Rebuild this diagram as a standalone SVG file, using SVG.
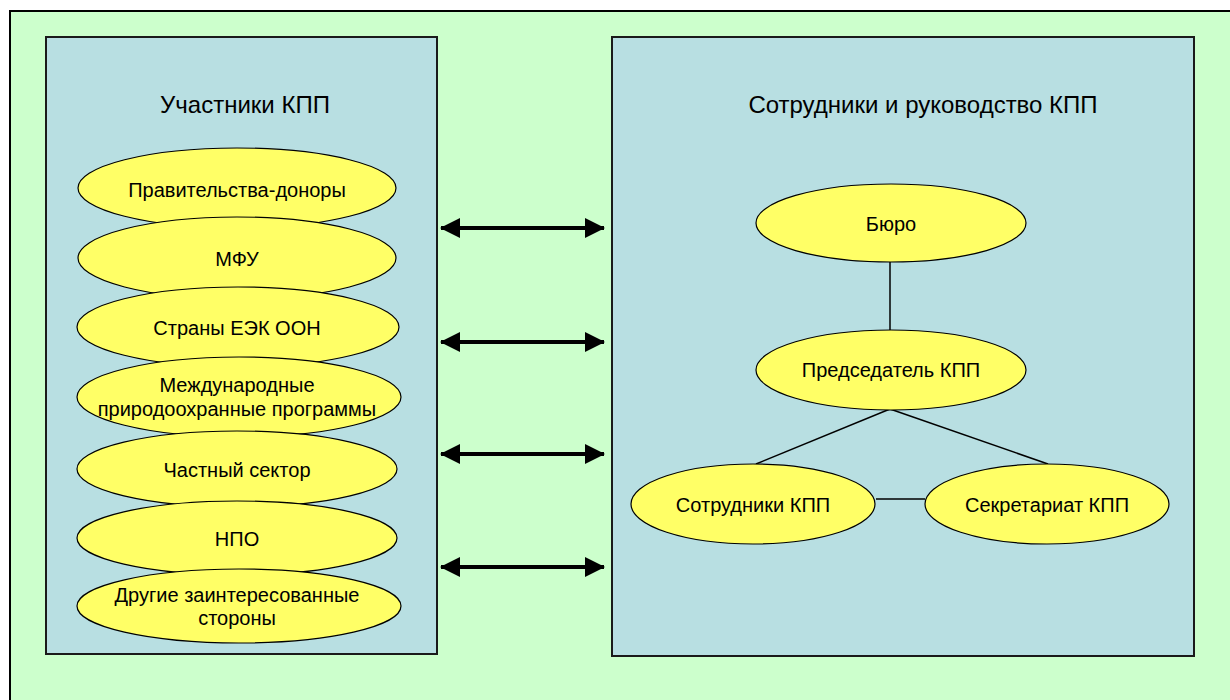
<svg xmlns="http://www.w3.org/2000/svg" width="1230" height="700" viewBox="0 0 1230 700">
<defs>
<style>
.panel{fill:#B8DFE2;stroke:#1a1a1a;stroke-width:2}
.node ellipse{fill:#FFFF66;stroke:#000;stroke-width:1.2}
text{font-family:"Liberation Sans",Arial,sans-serif;fill:#000;text-anchor:middle}
.t{font-size:20px}
.title{font-size:24px}
.line{stroke:#000;stroke-width:1.5;fill:none}
.arrow{stroke:#000;stroke-width:4;fill:none;marker-start:url(#ah);marker-end:url(#ah)}
</style>
<marker id="ah" viewBox="0 0 20 20" refX="19" refY="10" markerWidth="20" markerHeight="20" markerUnits="userSpaceOnUse" orient="auto-start-reverse">
<path d="M0,0 L20,10 L0,20 Z" fill="#000"/>
</marker>
</defs>
<rect x="0" y="0" width="1230" height="700" fill="#fff"/>
<rect x="10" y="11" width="1230" height="700" fill="#CCFFCC" stroke="#000" stroke-width="2"/>
<g id="panel-left">
<rect class="panel" x="46" y="37" width="391" height="617"/>
<text class="title" x="245" y="113">Участники КПП</text>
</g>
<g id="panel-right">
<rect class="panel" x="612" y="37" width="582" height="619"/>
<text class="title" x="923" y="113">Сотрудники и руководство КПП</text>
</g>
<g id="connectors">
<line class="arrow" x1="441" y1="228" x2="604" y2="228"/>
<line class="arrow" x1="441" y1="342" x2="604" y2="342"/>
<line class="arrow" x1="441" y1="454" x2="604" y2="454"/>
<line class="arrow" x1="441" y1="567" x2="604" y2="567"/>
<line class="line" x1="890" y1="262" x2="890" y2="330"/>
<line class="line" x1="890" y1="409" x2="756" y2="464"/>
<line class="line" x1="890" y1="409" x2="1048" y2="464"/>
<line class="line" x1="876" y1="499" x2="925" y2="499"/>
</g>
<g id="n-donors" class="node"><ellipse cx="237" cy="188" rx="159" ry="40"/><text class="t" x="237" y="197">Правительства-доноры</text></g>
<g id="n-mfu" class="node"><ellipse cx="237" cy="258" rx="159" ry="41"/><text class="t" x="237" y="266">МФУ</text></g>
<g id="n-countries" class="node"><ellipse cx="238" cy="327" rx="161" ry="40"/><text class="t" x="237" y="335">Страны ЕЭК ООН</text></g>
<g id="n-programmes" class="node"><ellipse cx="239" cy="397" rx="162" ry="40"/><text class="t" x="237" y="392">Международные</text><text class="t" x="237" y="416">природоохранные программы</text></g>
<g id="n-private" class="node"><ellipse cx="237" cy="469" rx="160" ry="38"/><text class="t" x="237" y="477">Частный сектор</text></g>
<g id="n-ngo" class="node"><ellipse cx="237" cy="538" rx="160" ry="37"/><text class="t" x="237" y="546">НПО</text></g>
<g id="n-other" class="node"><ellipse cx="239" cy="606" rx="162" ry="37"/><text class="t" x="237" y="602">Другие заинтересованные</text><text class="t" x="237" y="625">стороны</text></g>
<g id="n-bureau" class="node"><ellipse cx="891" cy="223" rx="135" ry="39"/><text class="t" x="891" y="231">Бюро</text></g>
<g id="n-chair" class="node"><ellipse cx="891" cy="370" rx="135" ry="40"/><text class="t" x="891" y="377">Председатель КПП</text></g>
<g id="n-staff" class="node"><ellipse cx="753" cy="504" rx="122" ry="40"/><text class="t" x="753" y="512">Сотрудники КПП</text></g>
<g id="n-secretariat" class="node"><ellipse cx="1047" cy="504" rx="122" ry="40"/><text class="t" x="1047" y="512">Секретариат КПП</text></g>
</svg>
